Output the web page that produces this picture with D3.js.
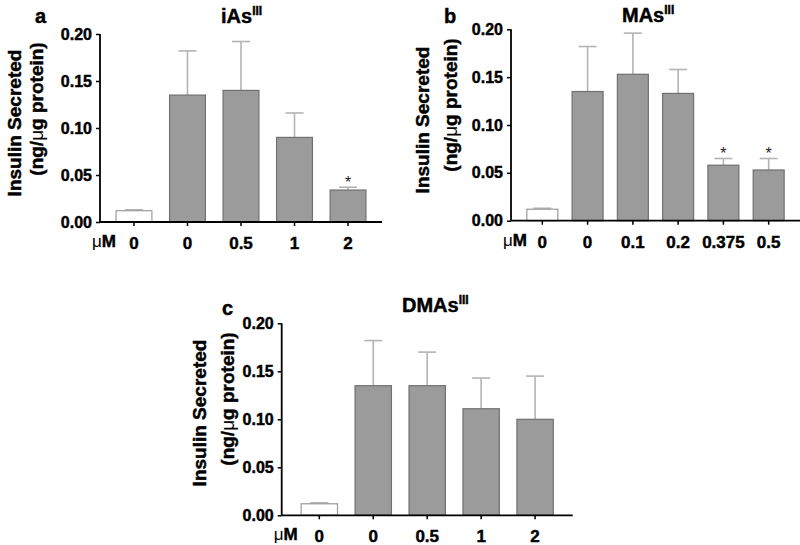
<!DOCTYPE html>
<html><head><meta charset="utf-8">
<script src="https://cdn.jsdelivr.net/npm/d3@7"></script>
<style>body{margin:0;background:#fff}svg{font-family:"Liberation Sans",Arial,sans-serif}</style>
</head><body>
<svg id="c" width="800" height="545"></svg>
<script>
// ---- data ----
const yTicks = [0, 0.05, 0.10, 0.15, 0.20];
const catsA = ["0", "0", "0.5", "1", "2"];
const meanA = [0.012, 0.135, 0.140, 0.090, 0.034];
const errA  = [0.013, 0.182, 0.192, 0.116, 0.037];
const sigA  = [false, false, false, false, true];

const catsB = ["0", "0", "0.1", "0.2", "0.375", "0.5"];
const meanB = [0.012, 0.135, 0.153, 0.133, 0.058, 0.053];
const errB  = [0.013, 0.182, 0.196, 0.158, 0.065, 0.065];
const sigB  = [false, false, false, false, true, true];

const catsC = ["0", "0", "0.5", "1", "2"];
const meanC = [0.012, 0.135, 0.135, 0.111, 0.100];
const errC  = [0.013, 0.182, 0.170, 0.143, 0.145];
const sigC  = [false, false, false, false, false];

const svg = d3.select("#c");
const HEAVY = 0.45; // slight stroke to mimic the heavier print weight

function heavy(sel){ return sel.attr("stroke","#000").attr("stroke-width",HEAVY); }

function panel(o){
  const g = svg.append("g");
  const x = d3.scaleBand().domain(d3.range(o.cats.length)).range([o.x0, o.x1])
              .paddingInner(o.pi).paddingOuter(o.po);
  const y = d3.scaleLinear().domain([0, 0.2]).range([o.y0, o.yTop]);
  o.mean.forEach((v,i)=>{
    const xc = x(i) + x.bandwidth()/2;
    g.append("line").attr("x1",xc).attr("x2",xc).attr("y1",y(v)).attr("y2",y(o.err[i]))
      .attr("stroke","#b4b4b4").attr("stroke-width",1.6);
    g.append("line").attr("x1",xc-9).attr("x2",xc+9).attr("y1",y(o.err[i])).attr("y2",y(o.err[i]))
      .attr("stroke","#b4b4b4").attr("stroke-width",1.6);
    g.append("rect").attr("x",x(i)).attr("width",x.bandwidth())
      .attr("y",y(v)).attr("height",y(0)-y(v))
      .attr("fill", i===0 ? "#fff" : "#9b9b9b")
      .attr("stroke", i===0 ? "#9a9a9a" : "#707070").attr("stroke-width",1.2);
    if(o.sig[i]){
      g.append("text").attr("x",xc).attr("y",y(o.err[i])+1).attr("text-anchor","middle")
        .attr("font-size",16).attr("fill","#222").text("*");
    }
  });
  // y axis
  const ya = g.append("g").attr("transform",`translate(${o.x0},0)`)
    .call(d3.axisLeft(y).tickValues(yTicks).tickFormat(d3.format(".2f")).tickSize(4).tickPadding(4));
  ya.select(".domain").attr("stroke","#000").attr("stroke-width",1.8).attr("d",`M0,${o.y0}V${o.yTop}`);
  ya.selectAll(".tick line").attr("stroke","#000").attr("stroke-width",1.5);
  heavy(ya.selectAll(".tick text").attr("font-size",16).attr("font-weight","bold").attr("fill","#000")
    .attr("font-family","'Liberation Sans',Arial,sans-serif"));
  // x axis
  const xa = g.append("g").attr("transform",`translate(0,${o.y0})`)
    .call(d3.axisBottom(x).tickFormat(i=>o.cats[i]).tickSize(4).tickPadding(11));
  xa.select(".domain").attr("stroke","#000").attr("stroke-width",1.8).attr("d",`M${o.x0},0H${o.x1}`);
  xa.selectAll(".tick line").attr("stroke","#000").attr("stroke-width",1.5);
  heavy(xa.selectAll(".tick text").attr("font-size",17).attr("font-weight","bold").attr("fill","#000")
    .attr("font-family","'Liberation Sans',Arial,sans-serif"));
  // uM
  const um = g.append("text").attr("x",o.x0+16).attr("y",o.y0+25).attr("text-anchor","end")
    .attr("font-size",17).attr("fill","#000");
  um.append("tspan").text("μ");
  um.append("tspan").attr("font-weight","bold").attr("stroke","#000").attr("stroke-width",HEAVY).text("M");
  // y label
  heavy(g.append("text").attr("transform",`translate(${o.l1x},${o.l1y}) rotate(-90)`).attr("dy","0.35em")
    .attr("text-anchor","middle").attr("font-size",19).attr("font-weight","bold").text("Insulin Secreted"));
  const l2 = g.append("text").attr("transform",`translate(${o.l2x},${o.l2y}) rotate(-90)`).attr("dy","0.35em")
    .attr("text-anchor","middle").attr("font-size",19).attr("font-weight","bold");
  heavy(l2.append("tspan").text("(ng/"));
  l2.append("tspan").attr("font-weight","normal").text("μ");
  heavy(l2.append("tspan").text("g protein)"));
  // title
  const t = g.append("text").attr("x",o.tx).attr("y",o.ty).attr("font-size",20).attr("font-weight","bold");
  heavy(t.append("tspan").text(o.title));
  heavy(t.append("tspan").attr("font-size",12).attr("dy",-8).text("III"));
  // panel letter
  heavy(g.append("text").attr("x",o.px).attr("y",o.py).attr("font-size",20).attr("font-weight","bold").text(o.letter));
}

panel({cats:catsA, mean:meanA, err:errA, sig:sigA, x0:100, x1:382, pi:0.33, po:0.3,
  y0:222, yTop:34, l1x:14, l1y:123, l2x:36, l2y:109, title:"iAs", tx:221, ty:23, letter:"a", px:35, py:23});
panel({cats:catsB, mean:meanB, err:errB, sig:sigB, x0:511, x1:800, pi:0.316, po:0.35,
  y0:220.7, yTop:29.3, l1x:422, l1y:120, l2x:450, l2y:105, title:"MAs", tx:622, ty:22, letter:"b", px:444, py:23});
panel({cats:catsC, mean:meanC, err:errC, sig:sigC, x0:281.7, x1:572.7, pi:0.326, po:0.36,
  y0:515.3, yTop:323.3, l1x:199, l1y:413, l2x:227, l2y:399, title:"DMAs", tx:402, ty:312, letter:"c", px:222, py:315});
</script>
</body></html>
